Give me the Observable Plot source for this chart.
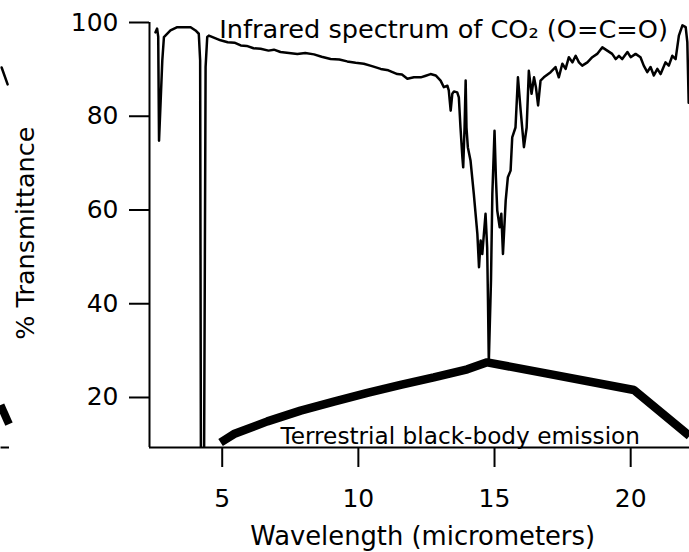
<!DOCTYPE html>
<html><head><meta charset="utf-8">
<script src="https://cdn.jsdelivr.net/npm/d3@7"></script>
<script src="https://cdn.jsdelivr.net/npm/@observablehq/plot@0.6"></script>
<style>
html,body{margin:0;padding:0;background:#fff;}
#chart{width:689px;height:552px;overflow:hidden;}
</style></head><body><div id="chart"></div>
<script>
// CO2 infrared spectrum (wavelength in micrometers, % transmittance)
const wavelength = [2.55,2.61,2.65,2.68,2.74,2.80,2.86,3.10,3.35,3.84,4.02,4.14,4.19,4.22,4.33,4.39,4.45,4.51,
  4.94,5.20,5.45,5.68,5.90,6.15,6.41,6.70,6.90,7.14,7.45,7.76,8.05,8.37,8.65,8.98,9.30,9.59,9.90,10.20,10.50,10.82,
  11.10,11.43,11.60,11.80,12.04,12.29,12.45,12.65,12.84,13.02,13.14,13.27,13.32,
  13.39,13.45,13.51,13.63,13.69,13.75,13.82,13.85,13.90,13.94,13.97,14.02,14.12,14.24,14.37,14.43,14.49,14.55,14.61,
  14.67,14.73,14.76,14.79,14.87,14.92,15.00,15.05,15.10,15.19,15.25,15.31,15.41,15.49,15.59,15.65,15.77,15.86,15.96,
  16.08,16.18,16.26,16.36,16.45,16.52,16.60,16.69,16.81,17.06,17.24,17.36,17.49,17.61,17.73,17.86,17.98,18.10,18.22,
  18.41,18.59,18.77,18.96,19.14,19.32,19.45,19.57,19.69,19.88,20.00,20.18,20.36,20.48,20.61,20.73,20.85,20.98,21.10,
  21.28,21.40,21.53,21.65,21.77,21.90,22.02,22.08,22.13];
const transmittance = [97.9,98.7,97.0,74.8,83.3,91.9,96.9,98.3,99.0,99.0,98.3,97.6,91.9,0,0,90.5,96.9,97.2,
  96.2,95.8,95.7,95.1,95.0,94.5,94.4,94.0,94.2,93.7,93.5,93.3,93.5,93.2,92.7,92.2,92.1,91.7,91.4,91.2,90.7,90.1,
  89.8,89.0,88.9,88.0,88.3,88.3,88.6,89.0,88.7,87.6,86.2,86.5,85.5,
  81.2,84.8,85.3,85.1,84.0,77.6,71.2,69.1,77.6,87.6,77.6,73.4,70.5,63.4,54.9,47.8,53.5,50.6,54.9,
  59.2,52.0,40.6,27.6,44.9,63.4,76.9,67.0,59.9,56.3,59.2,50.6,62.0,67.0,68.4,75.5,77.6,88.3,81.2,
  73.4,77.6,89.7,84.8,88.3,86.2,82.3,87.6,88.3,89.4,90.5,88.3,91.2,90.1,92.6,91.5,92.9,91.5,90.8,
  91.5,92.6,93.3,94.7,94.0,93.3,92.2,92.9,92.2,93.7,92.6,93.3,92.6,90.8,89.4,90.5,88.7,90.1,89.0,
  91.5,90.8,92.9,92.2,97.2,99.4,99.0,95.8,82.9];
// Terrestrial black-body emission curve (relative, drawn on same axes)
const emissionWavelength = [4.94,5.43,6.66,7.88,9.10,10.33,11.55,12.77,14.00,14.73,16.94,20.12,22.16];
const emissionLevel = [10.4,12.2,14.9,17.2,19.1,21.0,22.7,24.3,26.0,27.5,25.1,21.6,11.8];
// Cut-off edge of the neighbouring panel, visible at the far left
const neighbourSpectrumX = [-3.10, -2.88];
const neighbourSpectrumY = [90.4, 86.8];
const neighbourEmissionX = [-3.14, -2.83];
const neighbourEmissionY = [18.4, 14.3];
const neighbourAxisX = [-3.14, -2.83];
const xTicks = [5,10,15,20];
const yTicks = [20,40,60,80,100];
const titleText = "Infrared spectrum of CO₂ (O=C=O)";
const emissionText = "Terrestrial black-body emission";
const xLabel = "Wavelength (micrometers)";
const yLabel = "% Transmittance";

const spectrum = wavelength.map((w, i) => ({w, t: transmittance[i]}));
const emission = emissionWavelength.map((w, i) => ({w, t: emissionLevel[i]}));
const nSpec = neighbourSpectrumX.map((w, i) => ({w, t: neighbourSpectrumY[i]}));
const nEmis = neighbourEmissionX.map((w, i) => ({w, t: neighbourEmissionY[i]}));
const xMin = 2.33, xMax = 22.16, yMin = 9.33, yMax = 100;
const nAxis = neighbourAxisX.map(w => ({w, t: yMin}));

const chart = Plot.plot({
  width: 689, height: 552,
  marginLeft: 149, marginRight: 0, marginTop: 22, marginBottom: 105,
  style: {fontFamily: "'DejaVu Sans', sans-serif", background: "white", color: "black", overflow: "hidden"},
  x: {domain: [xMin, xMax]},
  y: {domain: [yMin, yMax]},
  marks: [
    Plot.axisX({ticks: xTicks, tickSize: 20, tickPadding: 22, fontSize: 25, strokeWidth: 2, label: null}),
    Plot.axisY({ticks: yTicks, tickSize: 20, tickPadding: 11, fontSize: 25, strokeWidth: 2, label: null}),
    Plot.ruleX([xMin], {strokeWidth: 2}),
    Plot.ruleY([yMin], {strokeWidth: 2}),
    Plot.line(spectrum, {x: "w", y: "t", strokeWidth: 2.5, stroke: "black", clip: true}),
    Plot.line(emission, {x: "w", y: "t", strokeWidth: 8.5, stroke: "black", strokeLinejoin: "miter", strokeLinecap: "butt", clip: true}),
    Plot.line(nSpec, {x: "w", y: "t", strokeWidth: 2.5, stroke: "black"}),
    Plot.line(nEmis, {x: "w", y: "t", strokeWidth: 8, stroke: "black", strokeLinecap: "butt"}),
    Plot.line(nAxis, {x: "w", y: "t", strokeWidth: 2, stroke: "black", strokeLinecap: "butt"}),
    Plot.text([titleText], {x: 13.13, y: 98.5, text: d => d, fontSize: 25.6, textAnchor: "middle", lineAnchor: "middle", fill: "black"}),
    Plot.text([emissionText], {x: 13.74, y: 11.6, text: d => d, fontSize: 23.2, textAnchor: "middle", lineAnchor: "middle", fill: "black"}),
    Plot.text([xLabel], {x: 12.36, frameAnchor: "bottom", dy: 89, text: d => d, fontSize: 25.8, textAnchor: "middle", lineAnchor: "middle", fill: "black"}),
    Plot.text([yLabel], {y: 55.05, frameAnchor: "left", dx: -124, rotate: -90, text: d => d, fontSize: 25.5, textAnchor: "middle", lineAnchor: "middle", fill: "black"})
  ]
});
document.getElementById("chart").appendChild(chart);
</script></body></html>
